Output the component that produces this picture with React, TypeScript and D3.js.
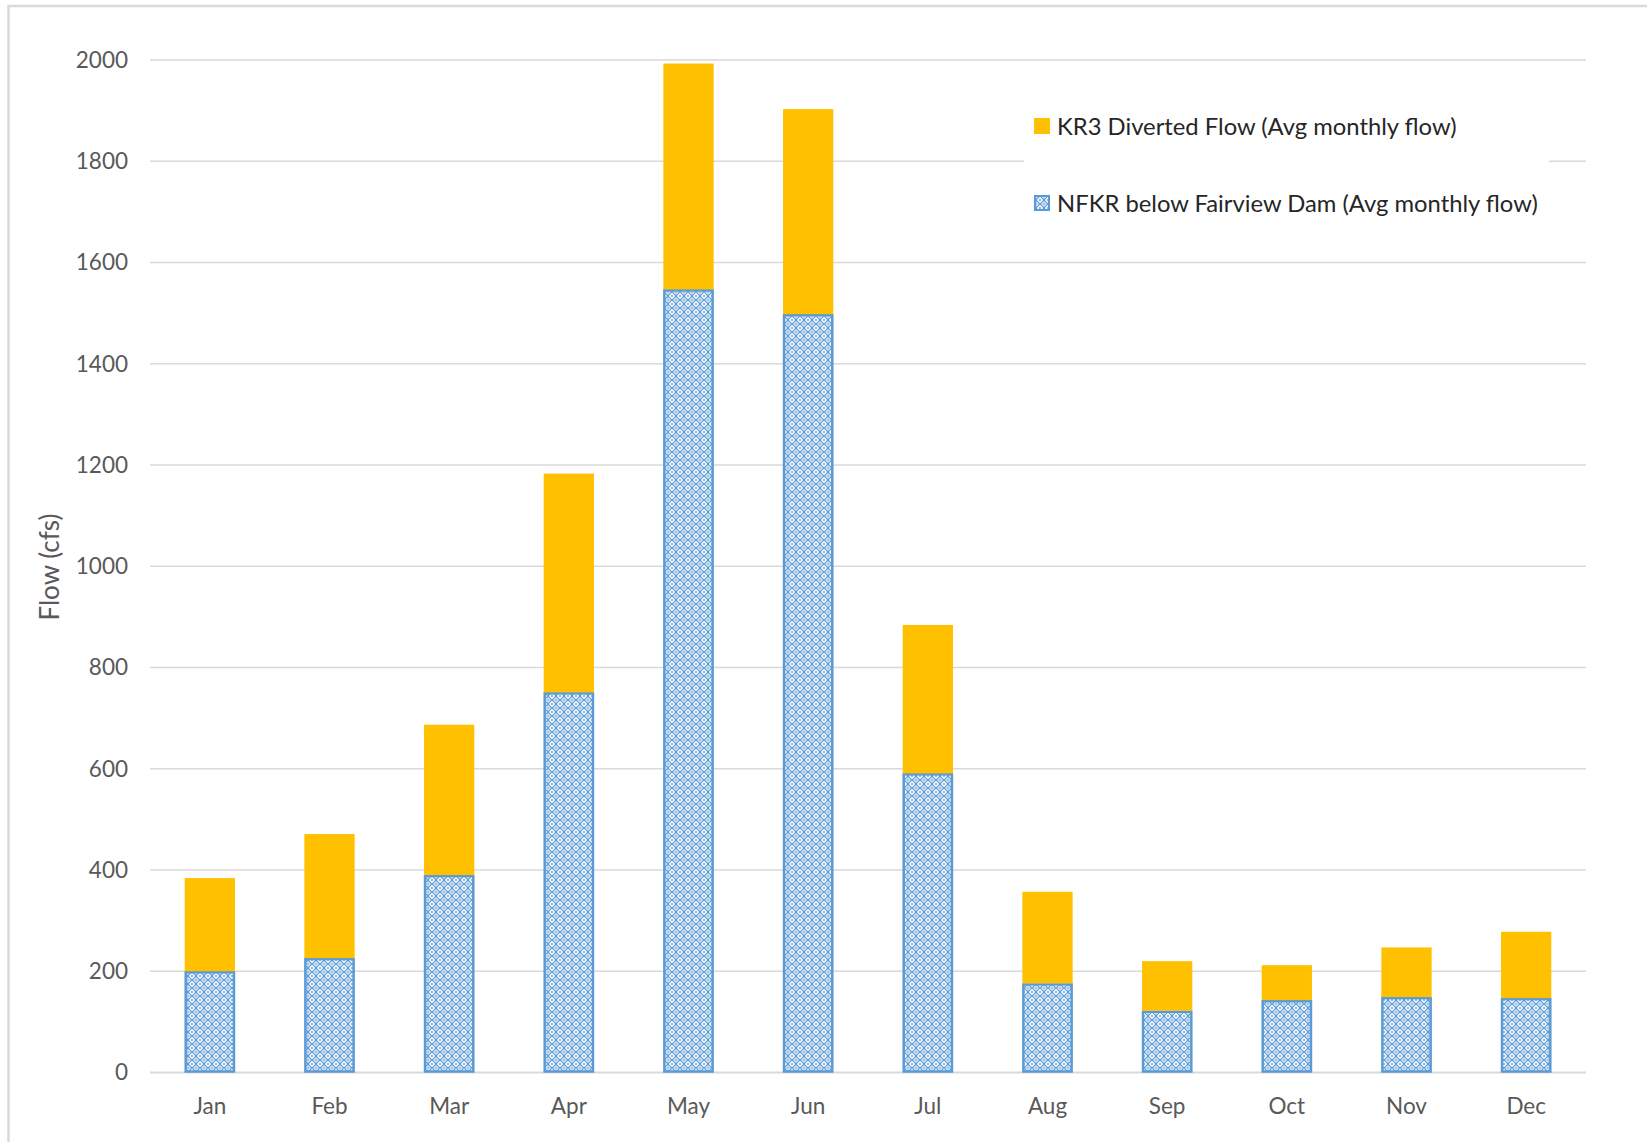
import React from "react";
import * as d3 from "d3";

// Monthly average flows (cfs)
const months = ["Jan", "Feb", "Mar", "Apr", "May", "Jun", "Jul", "Aug", "Sep", "Oct", "Nov", "Dec"];
const nfkrFlow = [198, 224, 388, 749, 1545, 1496, 589, 174, 120, 141, 147, 145];
const kr3Flow = [186, 247, 299, 434, 448, 407, 295, 183, 100, 71, 100, 133];
const yTicks = [0, 200, 400, 600, 800, 1000, 1200, 1400, 1600, 1800, 2000];
const seriesNames = [
  "KR3 Diverted Flow (Avg monthly flow)",
  "NFKR below Fairview Dam (Avg monthly flow)",
];

const W = 1647;
const H = 1142;
const FONT = "Lato, 'Open Sans', sans-serif";
const ORANGE = "#FFC000";
const BLUE = "#5B9BD5";
const GRID = "#d9d9d9";

export default function App() {
  const x = d3
    .scaleBand<string>()
    .domain(months)
    .range([150, 1586])
    .paddingInner(0.58)
    .paddingOuter(0.29);
  const y = d3.scaleLinear().domain([0, 2000]).range([1072.5, 60]);

  return (
    <svg
      width={W}
      height={H}
      style={{ position: "absolute", left: 0, top: 0, background: "#fff" }}
      fontFamily={FONT}
    >
      <defs>
        <pattern id="lattice" width="8" height="8" patternUnits="userSpaceOnUse">
          <rect width="8" height="8" fill="#fff" />
          <path d="M0,4 L4,0 L8,4 L4,8 Z" fill="none" stroke={BLUE} strokeWidth="1.1" />
          <rect x="0" y="3.4" width="8" height="1.2" fill={BLUE} opacity="0.55" />
          <rect x="3.4" y="0" width="1.2" height="8" fill={BLUE} opacity="0.55" />
          <circle cx="0" cy="0" r="1" fill={BLUE} />
          <circle cx="8" cy="0" r="1" fill={BLUE} />
          <circle cx="0" cy="8" r="1" fill={BLUE} />
          <circle cx="8" cy="8" r="1" fill={BLUE} />
        </pattern>
      </defs>

      {/* chart area frame */}
      <rect x={8.5} y={6} width={W + 20} height={H + 20} fill="#fff" stroke={GRID} strokeWidth={2.5} />

      {/* horizontal gridlines */}
      {yTicks.map((t) => (
        <line
          key={t}
          x1={150}
          x2={1586}
          y1={y(t)}
          y2={y(t)}
          stroke={GRID}
          strokeWidth={t === 0 ? 2 : 1.6}
        />
      ))}

      {/* y tick labels */}
      {yTicks.map((t) => (
        <text
          key={"l" + t}
          x={128}
          y={y(t)}
          dy="0.35em"
          textAnchor="end"
          fontSize={22.5}
          fill="#595959"
        >
          {t}
        </text>
      ))}

      {/* y axis title */}
      <text
        transform={`translate(59,567) rotate(-90)`}
        textAnchor="middle"
        fontSize={26}
        fill="#595959"
      >
        Flow (cfs)
      </text>

      {/* stacked bars */}
      {months.map((m, i) => {
        const bx = x(m)!;
        const bw = x.bandwidth();
        const base = nfkrFlow[i];
        const total = base + kr3Flow[i];
        return (
          <g key={m}>
            <rect
              x={bx + 1}
              y={y(base)}
              width={bw - 2}
              height={y(0) - y(base) - 1}
              fill="url(#lattice)"
              stroke={BLUE}
              strokeWidth={2.5}
            />
            <rect
              x={bx}
              y={y(total)}
              width={bw}
              height={y(base) - y(total) - 1}
              fill={ORANGE}
            />
          </g>
        );
      })}

      {/* x category labels */}
      {months.map((m) => (
        <text
          key={"x" + m}
          x={x(m)! + x.bandwidth() / 2}
          y={1114}
          textAnchor="middle"
          fontSize={22.5}
          fill="#595959"
        >
          {m}
        </text>
      ))}

      {/* legend */}
      <g>
        <rect x={1024} y={100} width={525} height={125} fill="#fff" />
        <rect x={1034} y={118} width={16} height={16} fill={ORANGE} />
        <text x={1057} y={127} dy="0.35em" fontSize={23.8} fill="#262626">
          {seriesNames[0]}
        </text>
        <rect x={1035} y={196} width={14} height={14} fill="url(#lattice)" stroke={BLUE} strokeWidth={2} />
        <text x={1057} y={204} dy="0.35em" fontSize={23.8} fill="#262626">
          {seriesNames[1]}
        </text>
      </g>
    </svg>
  );
}
